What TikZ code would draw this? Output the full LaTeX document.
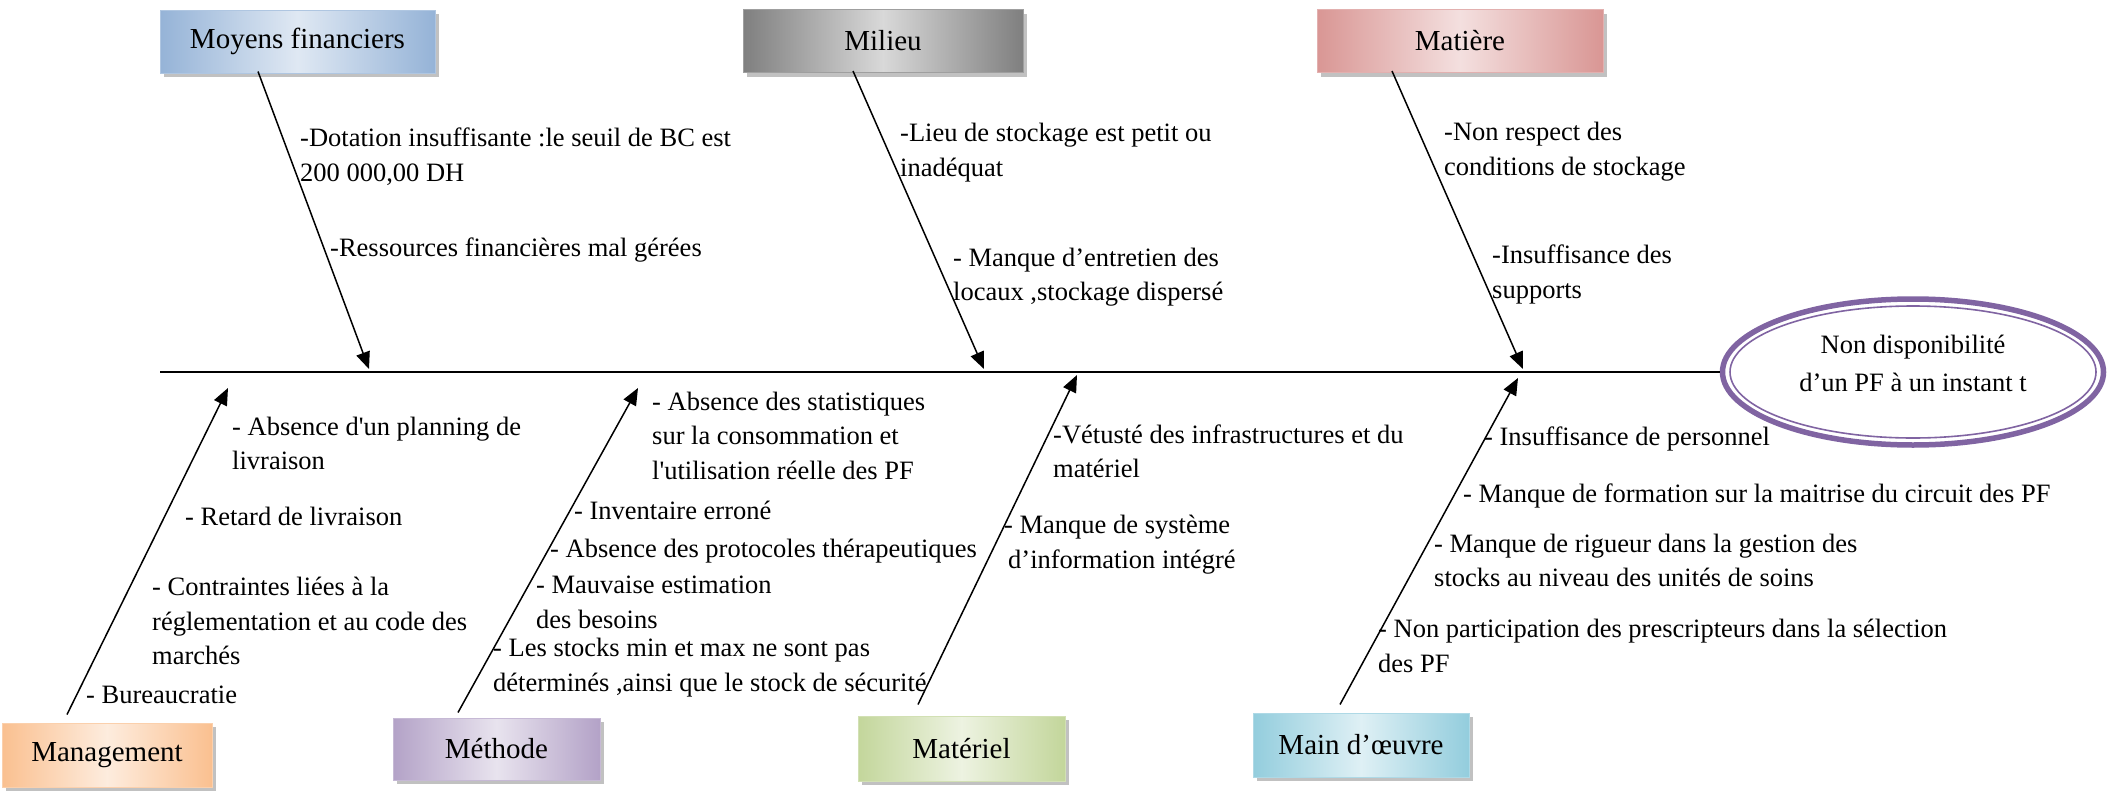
\documentclass[tikz,border=0pt]{standalone}
\usepackage{fontspec}
\setmainfont{Liberation Serif}
\usepackage{tikz}
\usetikzlibrary{calc,arrows.meta,shapes.geometric,shadows}

\definecolor{mfblue}{HTML}{95B3D7}
\definecolor{mlgray}{HTML}{7F7F7F}
\definecolor{mtred}{HTML}{D99694}
\definecolor{mgorange}{HTML}{FAC090}
\definecolor{mepurple}{HTML}{B3A2C7}
\definecolor{magreen}{HTML}{C3D69B}
\definecolor{moaqua}{HTML}{93CDDD}
\definecolor{effetviolet}{HTML}{8064A2}

\tikzset{
	catbox/.style={rectangle, inner sep=0pt, minimum height=63pt,
		left color=#1, right color=#1, middle color=#1!30!white, draw=#1!75!white, line width=1pt,
		font=\fontsize{29}{32}\selectfont,
		drop shadow={shadow xshift=4pt, shadow yshift=-4pt, fill=gray!70, opacity=0.7}},
	cause/.style={anchor=west, align=left, inner sep=0pt, font=\fontsize{26.5}{34.5}\selectfont},
	bone/.style={line width=1.5pt, -{Triangle[length=17pt,width=14pt]}}
}

\begin{document}
\begin{tikzpicture}[x=1pt,y=-1pt]
			%%%%% START %%%%%
			\useasboundingbox (0,0) rectangle (2112,795);
			
			%% effet
			\node[ellipse, draw=effetviolet, line width=5.5pt, minimum width=381pt, minimum height=146pt, inner sep=0pt] (effet) at (1913,372) {};
			\draw[effetviolet, line width=1.6pt] (effet.center) ellipse (183 and 66);
			\node[align=center, inner sep=0pt, font=\fontsize{26.5}{38}\selectfont] (effettxt) at (1913,363) {Non disponibilit\'e\\d’un PF \`a un instant t};
			
			\coordinate (spine0) at (160,372);
			\draw[line width=2pt] (spine0) -- (effet.west);
			
			%% categories
			\node[catbox=mfblue, minimum width=275pt] (mf) at (297.5,41.5) {Moyens financiers};
			\node[catbox=mlgray, minimum width=280pt] (ml) at (883,41) {Milieu};
			\node[catbox=mtred, minimum width=286pt] (mt) at (1460,41) {Mati\`ere};
			\node[catbox=mgorange, minimum width=210pt, minimum height=64pt] (mg) at (107,755) {Management};
			\node[catbox=mepurple, minimum width=207pt, minimum height=62pt] (me) at (496.5,749) {M\'ethode};
			\node[catbox=magreen, minimum width=207pt, minimum height=65pt] (ma) at (961.5,748.5) {Mat\'eriel};
			\node[catbox=moaqua, minimum width=216pt, minimum height=64pt] (mo) at (1361,745) {Main d’\oe uvre};
			
			%% heads on the spine
			\coordinate (hmf) at (369,369);
			\coordinate (hml) at (984,369);
			\coordinate (hmt) at (1523,369);
			\coordinate (hmg) at (228,388);
			\coordinate (hme) at (638,388);
			\coordinate (hma) at (1077,375);
			\coordinate (hmo) at (1518,378);
			
			\draw[bone] ($(mf.south)+(-39.5,-2)$) -- (hmf);
			\draw[bone] ($(ml.south)+(-30,-2)$) -- (hml);
			\draw[bone] ($(mt.south)+(-68,-2)$) -- (hmt);
			\draw[bone] ($(mg.north)+(-40,-8)$) -- (hmg);
			\draw[bone] ($(me.north)+(-38.5,-5)$) -- (hme);
			\draw[bone] ($(ma.north)+(-43.5,-11)$) -- (hma);
			\draw[bone] ($(mo.north)+(-21,-8)$) -- (hmo);
			
			%% causes, top
			\node[cause] (cmf1) at (300,156.5) {-Dotation insuffisante :le seuil de BC est\\200 000,00 DH};
			\node[cause] (cmf2) at (330,250) {-Ressources financi\`eres mal g\'er\'ees};
			\node[cause] (cml1) at (900,152.5) {-Lieu de stockage est petit ou\\inad\'equat};
			\node[cause] (cml2) at (953,277) {- Manque d’entretien des\\locaux ,stockage dispers\'e};
			\node[cause] (cmt1) at (1444,151.5) {-Non respect des\\conditions de stockage};
			\node[cause] (cmt2) at (1492,274.5) {-Insuffisance des\\supports};
			
			%% causes, bottom
			\node[cause] (cmg1) at (232,443.5) {- Absence d\textquotesingle un planning de\\livraison};
			\node[cause] (cmg2) at (185,516) {- Retard de livraison};
			\node[cause] (cmg3) at (152,621) {- Contraintes li\'ees \`a la\\r\'eglementation et au code des\\march\'es};
			\node[cause] (cmg4) at (86,695) {- Bureaucratie};
			
			\node[cause] (cme1) at (652,435.5) {- Absence des statistiques\\sur la consommation et\\l\textquotesingle utilisation r\'eelle des PF};
			\node[cause] (cme2) at (574,510) {- Inventaire erron\'e};
			\node[cause] (cme3) at (550,551) {- Absence des protocoles th\'erapeutiques};
			\node[cause] (cme4) at (536,602.5) {- Mauvaise estimation\\des besoins};
			\node[cause] (cme5) at (493,667.5) {- Les stocks min et max ne sont pas\\d\'etermin\'es ,ainsi que le stock de s\'ecurit\'e};
			
			\node[cause] (cma1) at (1053,451.5) {-V\'etust\'e des infrastructures et du\\mat\'eriel};
			\node[cause] (cma2) at (1004,544.5) {- Manque de syst\`eme\\\hspace*{4pt}d’information int\'egr\'e};
			
			\node[cause] (cmo1) at (1484,439) {- Insuffisance de personnel};
			\node[cause] (cmo2) at (1463,496) {- Manque de formation sur la maitrise du circuit des PF};
			\node[cause] (cmo3) at (1434,560.5) {- Manque de rigueur dans la gestion des\\stocks au niveau des unit\'es de soins};
			\node[cause] (cmo4) at (1378,646) {- Non participation des prescripteurs dans la s\'election\\des PF};
			
			%%%%% END %%%%%
\end{tikzpicture}
\end{document}
